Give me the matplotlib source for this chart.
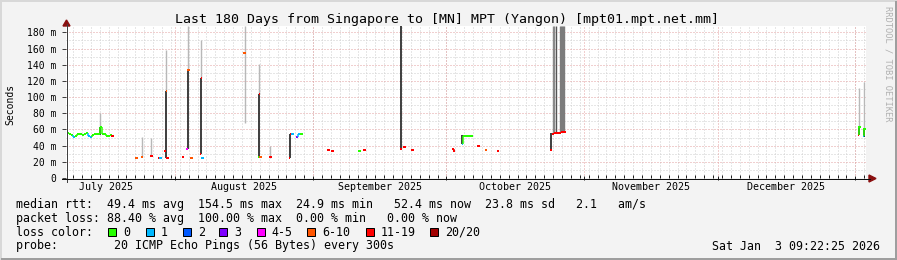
import matplotlib
matplotlib.use("Agg")
import matplotlib.pyplot as plt
from matplotlib.lines import Line2D
from matplotlib.patches import Rectangle, Polygon

W, H, DPI = 897, 260, 100
MONO = "DejaVu Sans Mono"

# ---------------- data ----------------
title = "Last 180 Days from Singapore to [MN] MPT (Yangon) [mpt01.mpt.net.mm]"
y_label = "Seconds"
watermark = "RRDTOOL / TOBI OETIKER"
timestamp = "Sat Jan  3 09:22:25 2026"

loss_labels = ["0", "1", "2", "3", "4-5", "6-10", "11-19", "20/20"]
loss_colors = ["#26ff00", "#00b8ff", "#0059ff", "#7e00ff", "#ff00ff", "#ff5500", "#ff0000", "#a10000"]

# days since 2025-07-01 00:00
month_starts = [0, 31, 62, 92, 123, 153, 184, 215]
month_names = ["July 2025", "August 2025", "September 2025", "October 2025",
               "November 2025", "December 2025", "January 2026"]
x_start, x_end = 6.39, 186.39
y_max = 187.8
y_major = [0, 20, 40, 60, 80, 100, 120, 140, 160, 180]
y_major_labels = ["0", "20 m", "40 m", "60 m", "80 m", "100 m", "120 m", "140 m", "160 m", "180 m"]
y_minor = [10, 30, 50, 70, 90, 110, 130, 150, 170]

stat_rtt = "median rtt:  49.4 ms avg  154.5 ms max  24.9 ms min   52.4 ms now  23.8 ms sd   2.1   am/s"
stat_loss = "packet loss: 88.40 % avg  100.00 % max  0.00 % min   0.00 % now"
stat_color = "loss color:"
stat_probe = "probe:        20 ICMP Echo Pings (56 Bytes) every 300s"

# median rtt (ms) with loss class index
med_day = [6.6, 7.0, 7.5, 7.9, 8.4, 8.9, 9.4, 9.9, 10.4, 10.9, 11.4, 11.8, 12.3, 12.8, 13.3, 13.7,
           14.0, 14.4, 14.9, 15.4, 15.9, 16.4, 16.8,
           22.3, 23.5, 25.6, 27.2, 27.6, 28.5, 28.8, 29.2, 32.7, 33.5, 33.9, 34.6, 36.5, 36.7, 37.1,
           46.6, 49.7, 49.9, 50.1, 52.4,
           56.6, 56.9, 57.3, 58.1, 58.6, 59.0, 59.4,
           65.4, 66.4, 72.0, 72.5, 73.5, 81.8, 82.5, 84.3,
           93.2, 93.7, 95.4, 95.8, 96.3, 96.8, 97.3, 97.7, 99.2, 100.9, 103.6,
           115.4, 115.8, 116.3, 116.8, 117.3, 117.8, 118.3, 118.7,
           184.6, 184.9, 185.7, 186.0]
med_val = [55, 54, 53, 51, 52, 54, 54, 53, 54, 55, 52, 51, 53, 54, 54, 54,
           63, 54, 54, 52, 52, 53, 52,
           25, 26.5, 27.5, 25, 25, 33, 108, 25, 26, 36, 134, 25, 30, 123, 25,
           154, 25.5, 104, 25.5, 25.5,
           25, 54, 54.5, 51, 54, 54, 54,
           34.6, 33, 33.5, 33.5, 35, 35.4, 38.6, 34.6,
           35.4, 33.4, 42, 52.5, 52.5, 52.5, 52.5, 52.5, 40, 35, 33.5,
           34.5, 54.5, 55, 55.5, 56, 56.5, 57, 57,
           53, 62.5, 52.5, 61]
med_loss = [0, 0, 0, 1, 0, 0, 0, 0, 0, 0, 1, 1, 0, 0, 0, 0,
            0, 0, 0, 0, 0, 0, 6,
            5, 5, 6, 6, 1, 6, 5, 6, 6, 4, 5, 5, 6, 6, 1,
            5, 0, 6, 5, 6,
            6, 6, 1, 3, 1, 0, 0,
            6, 6, 0, 0, 6, 6, 6, 6,
            6, 6, 1, 0, 0, 0, 0, 0, 6, 5, 6,
            6, 6, 6, 6, 6, 6, 6, 6,
            6, 0, 1, 0]

# dense part of the ping smoke
dark_day = [14.0, 28.8, 33.9, 36.7, 49.9, 56.7, 81.8, 95.4, 115.5, 184.85, 186.0]
dark_lo = [53, 25, 36, 30, 25.5, 25, 35.4, 42, 34.5, 53, 51]
dark_hi = [63, 108, 134, 123, 104, 54, 187.8, 53, 55, 62.5, 62]

# medium grey smoke
mid_day = [116.0, 116.2, 116.6, 117.6, 117.8, 118.0, 118.2, 118.4]
mid_lo = [55, 55, 55.5, 56.5, 56.5, 57, 57, 57]
mid_hi = [187.8, 187.8, 187.8, 187.8, 187.8, 187.8, 187.8, 187.8]
mid_shade = ["#8a8a8a", "#8a8a8a", "#555555", "#7c7c7c", "#7c7c7c", "#7c7c7c", "#7c7c7c", "#7c7c7c"]

# sparse part of the ping smoke
light_day = [14.0, 23.5, 25.6, 28.8, 33.9, 36.7, 46.6, 49.9, 52.3, 184.9, 186.0]
light_lo = [63, 26, 27, 108, 134, 123, 68, 104, 25, 62.5, 62]
light_hi = [80, 51, 49, 158, 187.8, 170, 187.8, 141, 40, 111, 119]

# ---------------- drawing ----------------
def fx(x):
    return x / W

def fy(y):
    return 1 - y / H

fig = plt.figure(figsize=(W / DPI, H / DPI), dpi=DPI, facecolor="#f3f3f3")
ax = fig.add_axes([fx(66), fy(178), 800 / W, 152 / H])
ax.set_facecolor("white")
ax.set_xlim(x_start, x_end)
ax.set_ylim(0, y_max)
for s in ax.spines.values():
    s.set_visible(False)

dot = (0, (1, 2))
px = 72 / DPI  # one pixel in points

# grid
for v in y_minor:
    ax.axhline(v, color="#cfcfcf", lw=px, ls=dot, zorder=0)
for d in range(0, 200, 2):
    if x_start < d < x_end:
        ax.axvline(d, color="#cfcfcf", lw=px, ls=dot, zorder=0)
for v in y_major[1:]:
    ax.axhline(v, color="#e3a0a0", lw=px, ls=dot, zorder=0.5)
for d in month_starts:
    if x_start < d < x_end:
        ax.axvline(d, color="#e3a0a0", lw=px, ls=dot, zorder=0.5)

# smoke
ax.vlines(light_day, light_lo, light_hi, color="#b8b8b8", lw=1.4 * px, zorder=2)
ax.vlines(mid_day, mid_lo, mid_hi, colors=mid_shade, lw=1.4 * px, zorder=2)
ax.vlines(dark_day, dark_lo, dark_hi, color="#151515", lw=1.6 * px, zorder=3)

# median line coloured by loss
half = 0.28
for i, (d, v, c) in enumerate(zip(med_day, med_val, med_loss)):
    col = loss_colors[c]
    if i + 1 < len(med_day) and med_day[i + 1] - d <= 0.6:
        d2, v2 = med_day[i + 1], med_val[i + 1]
        ax.hlines(v, d, d2, color=col, lw=2 * px, zorder=4)
        if abs(v2 - v) < 12:
            ax.vlines(d2, min(v, v2), max(v, v2), color=loss_colors[med_loss[i + 1]], lw=1.5 * px, zorder=4)
    else:
        ax.hlines(v, d - half, d + half, color=col, lw=2 * px, zorder=4)

# ticks
ax.set_yticks(y_major)
ax.set_yticklabels(y_major_labels, fontfamily=MONO, fontsize=7)
ax.tick_params(axis="y", length=3, width=px, color="#404040", pad=4, direction="out")
ax.set_xticks([d for d in month_starts if x_start < d < x_end])
ax.set_xticklabels([])
ax.set_xticks([d for d in range(0, 200, 2) if x_start < d < x_end], minor=True)
ax.tick_params(axis="x", which="major", length=3, width=px, color="#202020", direction="inout")
ax.tick_params(axis="x", which="minor", length=2, width=px, color="#202020", direction="in")

for i in range(len(month_names)):
    mid = (month_starts[i] + month_starts[i + 1]) / 2
    if x_start < mid < x_end:
        ax.text(mid, -0.062, month_names[i], transform=ax.get_xaxis_transform(),
                ha="center", va="center", fontfamily=MONO, fontsize=7.2)

# axis lines and arrows
fig.add_artist(Line2D([fx(66.5), fx(66.5)], [fy(182), fy(24)], color="#404040", lw=px))
fig.add_artist(Line2D([fx(62), fx(870)], [fy(178.5), fy(178.5)], color="#101010", lw=px))
fig.add_artist(Polygon([[fx(66.5), fy(20)], [fx(63), fy(26)], [fx(70), fy(26)]],
                       closed=True, color="#8a1010", transform=fig.transFigure))
fig.add_artist(Polygon([[fx(876), fy(178.5)], [fx(869), fy(175)], [fx(869), fy(182)]],
                       closed=True, color="#8a1010", transform=fig.transFigure))

# texts
fig.text(fx(447), fy(19), title, ha="center", va="center", fontfamily=MONO, fontsize=9.55)
fig.text(fx(10), fy(104), y_label, ha="center", va="center", rotation=90, fontfamily=MONO, fontsize=7)
fig.text(fx(888), fy(6), watermark, ha="center", va="top", rotation=270, fontfamily=MONO,
         fontsize=6.3, color="#b0b0b0")

lx = fx(16)
fs = 8.37
fig.text(lx, fy(204.5), stat_rtt, ha="left", va="center", fontfamily=MONO, fontsize=fs)
fig.text(lx, fy(218.5), stat_loss, ha="left", va="center", fontfamily=MONO, fontsize=fs)
fig.text(lx, fy(232), stat_color, ha="left", va="center", fontfamily=MONO, fontsize=fs)
fig.text(lx, fy(246), stat_probe, ha="left", va="center", fontfamily=MONO, fontsize=fs)
fig.text(fx(880), fy(246), timestamp, ha="right", va="center", fontfamily=MONO, fontsize=fs)

box_left = [108, 145.7, 182.7, 219.3, 256.7, 307, 366, 430]
for bx, lab, col in zip(box_left, loss_labels, loss_colors):
    fig.add_artist(Rectangle((fx(bx), fy(236)), 8 / W, 8 / H, facecolor=col, edgecolor="black",
                             lw=px, transform=fig.transFigure))
    fig.text(fx(bx + 15), fy(232), lab, ha="left", va="center", fontfamily=MONO, fontsize=fs)

# 3D frame
fig.add_artist(Line2D([0, 1], [fy(0.5), fy(0.5)], color="#d8d8d8", lw=2 * px))
fig.add_artist(Line2D([fx(0.5), fx(0.5)], [0, 1], color="#d8d8d8", lw=2 * px))
fig.add_artist(Line2D([fx(2), 1], [fy(258.5), fy(258.5)], color="#9e9e9e", lw=3 * px))
fig.add_artist(Line2D([fx(895.5), fx(895.5)], [0, fy(2)], color="#9e9e9e", lw=3 * px))

fig.savefig("out.png", dpi=DPI, facecolor=fig.get_facecolor())
